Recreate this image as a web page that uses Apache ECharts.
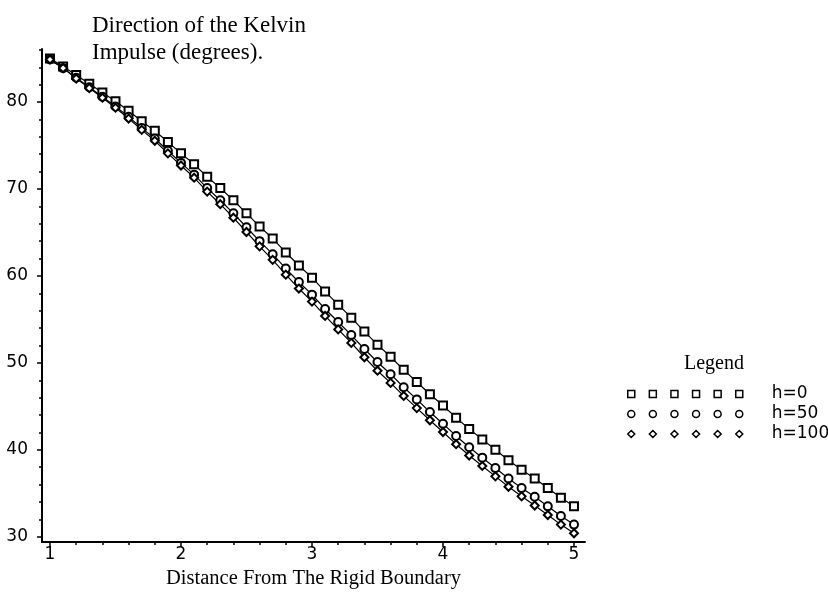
<!DOCTYPE html>
<html>
<head>
<meta charset="utf-8">
<script src="https://cdn.jsdelivr.net/npm/echarts@6/dist/echarts.min.js"></script>
<style>
  html, body { margin: 0; padding: 0; background: #fff; }
  #chart { width: 828px; height: 597px; }
</style>
</head>
<body>
<div id="chart"></div>
<script>
// distance from the rigid boundary, 1.0 .. 5.0 step 0.1
var xs = [1.0, 1.1, 1.2, 1.3, 1.4, 1.5, 1.6, 1.7, 1.8, 1.9,
          2.0, 2.1, 2.2, 2.3, 2.4, 2.5, 2.6, 2.7, 2.8, 2.9,
          3.0, 3.1, 3.2, 3.3, 3.4, 3.5, 3.6, 3.7, 3.8, 3.9,
          4.0, 4.1, 4.2, 4.3, 4.4, 4.5, 4.6, 4.7, 4.8, 4.9, 5.0];

// direction of the Kelvin impulse (degrees)
var h0 = [85.0, 84.1, 83.1, 82.1, 81.1, 80.1, 79.0, 77.8, 76.7, 75.4,
          74.1, 72.85, 71.4, 70.1, 68.7, 67.2, 65.7, 64.3, 62.7, 61.2,
          59.8, 58.2, 56.7, 55.2, 53.6, 52.1, 50.7, 49.2, 47.8, 46.4,
          45.1, 43.7, 42.4, 41.2, 40.0, 38.8, 37.7, 36.7, 35.6, 34.5, 33.5];
var h50 = [84.9, 83.9, 82.8, 81.7, 80.6, 79.5, 78.3, 77.0, 75.8, 74.4,
           73.0, 71.65, 70.1, 68.7, 67.2, 65.6, 64.0, 62.5, 60.85, 59.3,
           57.85, 56.2, 54.7, 53.2, 51.6, 50.1, 48.7, 47.2, 45.8, 44.35,
           43.0, 41.6, 40.3, 39.1, 37.9, 36.7, 35.6, 34.6, 33.5, 32.4, 31.4];
var h100 = [84.9, 83.9, 82.7, 81.6, 80.5, 79.35, 78.1, 76.8, 75.55, 74.1,
            72.7, 71.3, 69.7, 68.25, 66.7, 65.05, 63.4, 61.85, 60.15, 58.55,
            57.05, 55.4, 53.85, 52.3, 50.65, 49.1, 47.7, 46.2, 44.8, 43.4,
            42.05, 40.65, 39.35, 38.15, 36.95, 35.75, 34.65, 33.6, 32.5, 31.4, 30.4];

var seriesNames = ['h=0', 'h=50', 'h=100'];

// axis ticks and labels
var xLabels = [1, 2, 3, 4, 5];
var xMinor = [1.2, 1.4, 1.6, 1.8, 2.2, 2.4, 2.6, 2.8, 3.2, 3.4, 3.6, 3.8, 4.2, 4.4, 4.6, 4.8];
var yLabels = [30, 40, 50, 60, 70, 80];
var yMinor = [32, 34, 36, 38, 42, 44, 46, 48, 52, 54, 56, 58, 62, 64, 66, 68, 72, 74, 76, 78, 82, 84, 86];

function pairs(ys) {
  return xs.map(function (x, i) { return [x, ys[i]]; });
}

var chart = echarts.init(document.getElementById('chart'));

var sans = 'DejaVu Sans';
var serif = 'Liberation Serif';
var XMIN = 0.939, XMAX = 5.084, YMIN = 29.4, YMAX = 86.1;

// legend icons: a row of six hollow markers
var iconSquares = 'path://M0,0h7v7h-7z M21.6,0h7v7h-7z M43.2,0h7v7h-7z M64.8,0h7v7h-7z M86.4,0h7v7h-7z M108,0h7v7h-7z';
var iconCircles = 'path://M0,3.5a3.5,3.5 0 1,0 7,0a3.5,3.5 0 1,0 -7,0z M21.6,3.5a3.5,3.5 0 1,0 7,0a3.5,3.5 0 1,0 -7,0z M43.2,3.5a3.5,3.5 0 1,0 7,0a3.5,3.5 0 1,0 -7,0z M64.8,3.5a3.5,3.5 0 1,0 7,0a3.5,3.5 0 1,0 -7,0z M86.4,3.5a3.5,3.5 0 1,0 7,0a3.5,3.5 0 1,0 -7,0z M108,3.5a3.5,3.5 0 1,0 7,0a3.5,3.5 0 1,0 -7,0z';
var iconDiamonds = 'path://M3.5,0l3.5,3.5l-3.5,3.5l-3.5,-3.5z M25.1,0l3.5,3.5l-3.5,3.5l-3.5,-3.5z M46.7,0l3.5,3.5l-3.5,3.5l-3.5,-3.5z M68.3,0l3.5,3.5l-3.5,3.5l-3.5,-3.5z M89.9,0l3.5,3.5l-3.5,3.5l-3.5,-3.5z M111.5,0l3.5,3.5l-3.5,3.5l-3.5,-3.5z';

function lineSeries(name, ys, symbol) {
  return {
    name: name,
    type: 'line',
    data: pairs(ys),
    symbol: symbol,
    symbolSize: 8,
    showAllSymbol: true,
    animation: false,
    lineStyle: { color: '#000', width: 1.2 },
    itemStyle: { color: '#000', borderColor: '#000', borderWidth: 1.8 },
    emphasis: { disabled: true }
  };
}

var option = {
  backgroundColor: '#fff',
  animation: false,
  title: {
    text: 'Direction of the Kelvin\nImpulse (degrees).',
    left: 87,
    top: 7,
    textStyle: { fontFamily: serif, fontSize: 23, fontWeight: 'normal', color: '#000', lineHeight: 27 }
  },
  legend: {
    orient: 'vertical',
    left: 622,
    top: 380,
    itemWidth: 115,
    itemHeight: 7,
    itemGap: 2,
    selectedMode: false,
    textStyle: { fontFamily: sans, fontSize: 17, color: '#000', padding: [0, 0, 0, 24], lineHeight: 18 },
    itemStyle: { color: '#fff', borderColor: '#000', borderWidth: 1.5 },
    data: [
      { name: seriesNames[0], icon: iconSquares },
      { name: seriesNames[1], icon: iconCircles },
      { name: seriesNames[2], icon: iconDiamonds }
    ]
  },
  graphic: [{
    type: 'text',
    left: 684,
    top: 354,
    style: { text: 'Legend', font: '20px "Liberation Serif"', fill: '#000' }
  }],
  grid: { left: 42, right: 243, top: 49, bottom: 55 },
  xAxis: [{
    type: 'value',
    min: XMIN,
    max: XMAX,
    name: 'Distance From The Rigid Boundary',
    nameLocation: 'middle',
    nameGap: 24,
    nameTextStyle: { fontFamily: serif, fontSize: 20.5, color: '#000' },
    splitLine: { show: false },
    axisLine: { show: true, onZero: false, lineStyle: { color: '#000', width: 2 } },
    axisTick: { show: true, length: 5, customValues: xLabels, lineStyle: { color: '#000', width: 1.5 } },
    axisLabel: { customValues: xLabels, margin: 4, fontFamily: sans, fontSize: 17, color: '#000' }
  }, {
    type: 'value',
    min: XMIN,
    max: XMAX,
    position: 'bottom',
    splitLine: { show: false },
    axisLine: { show: false, onZero: false },
    axisTick: { show: true, length: 3, customValues: xMinor, lineStyle: { color: '#000', width: 1.5 } },
    axisLabel: { show: false }
  }],
  yAxis: [{
    type: 'value',
    min: YMIN,
    max: YMAX,
    splitLine: { show: false },
    axisLine: { show: true, onZero: false, lineStyle: { color: '#000', width: 2 } },
    axisTick: { show: true, length: 5, customValues: yLabels, lineStyle: { color: '#000', width: 1.5 } },
    axisLabel: { customValues: yLabels, margin: 14, fontFamily: sans, fontSize: 17, color: '#000' }
  }, {
    type: 'value',
    min: YMIN,
    max: YMAX,
    position: 'left',
    splitLine: { show: false },
    axisLine: { show: false, onZero: false },
    axisTick: { show: true, length: 3, customValues: yMinor, lineStyle: { color: '#000', width: 1.5 } },
    axisLabel: { show: false }
  }],
  series: [
    lineSeries(seriesNames[0], h0, 'emptyRect'),
    lineSeries(seriesNames[1], h50, 'emptyCircle'),
    lineSeries(seriesNames[2], h100, 'emptyDiamond')
  ]
};

chart.setOption(option);
</script>
</body>
</html>
